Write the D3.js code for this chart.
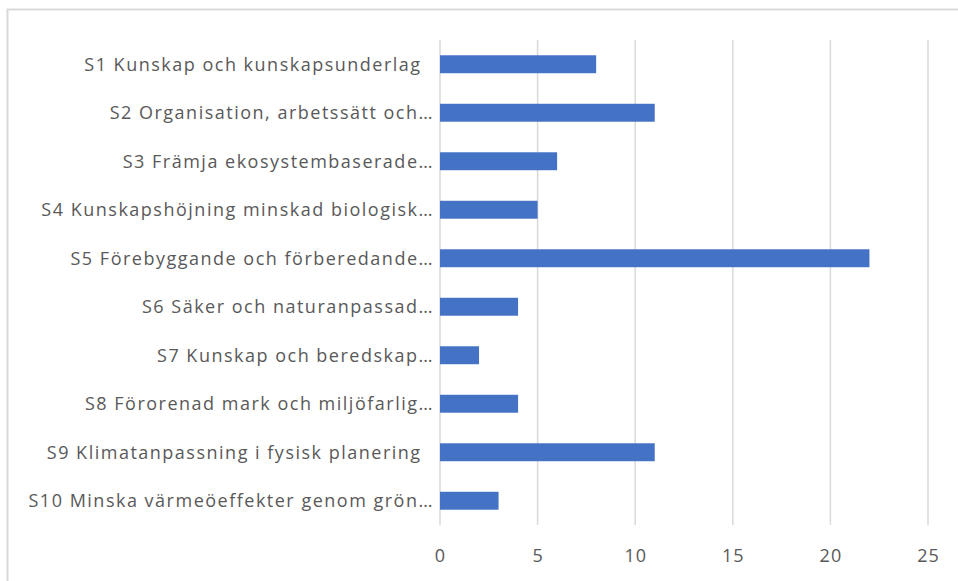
<!DOCTYPE html>
<html>
<head>
<meta charset="utf-8">
<script src="https://cdn.jsdelivr.net/npm/d3@7"></script>
<style>
  body { margin: 0; background: #fff; }
  text { font-family: "Open Sans", Lato, sans-serif; fill: #595959; }
</style>
</head>
<body>
<div id="viz"></div>
<script>
// categories (Excel truncates the long ones)
const categories = [
    "S1 Kunskap och kunskapsunderlag  ",
    "S2 Organisation, arbetssätt och…",
    "S3 Främja ekosystembaserade…",
    "S4 Kunskapshöjning minskad biologisk…",
    "S5 Förebyggande och förberedande…",
    "S6 Säker och naturanpassad…",
    "S7 Kunskap och beredskap…",
    "S8 Förorenad mark och miljöfarlig…",
    "S9 Klimatanpassning i fysisk planering  ",
    "S10 Minska värmeöeffekter genom grön…"
];
const values = [8, 11, 6, 5, 22, 4, 2, 4, 11, 3];
const xTicks = [0, 5, 10, 15, 20, 25];

const width = 958, height = 581;
const margin = { top: 40, right: 30, bottom: 56, left: 440 };

const svg = d3.select("#viz")
    .append("svg")
    .attr("width", width)
    .attr("height", height);

// chart border
svg.append("rect")
    .attr("x", 7.5)
    .attr("y", 9.5)
    .attr("width", 960)
    .attr("height", 600)
    .attr("fill", "none")
    .attr("stroke", "#d9d9d9")
    .attr("stroke-width", 2);

const xScale = d3.scaleLinear()
    .domain([0, 25])
    .range([margin.left, 928]);

const yScale = d3.scaleBand()
    .domain(categories)
    .range([margin.top, height - margin.bottom])
    .paddingInner(0.63)
    .paddingOuter(0.315);

// gridlines
svg.append("g")
    .selectAll("line")
    .data(xTicks)
    .enter()
    .append("line")
    .attr("x1", (d) => xScale(d))
    .attr("x2", (d) => xScale(d))
    .attr("y1", margin.top)
    .attr("y2", height - margin.bottom)
    .attr("stroke", "#d9d9d9")
    .attr("stroke-width", 1.5);

// bars
svg.selectAll(".bar")
    .data(values)
    .enter()
    .append("rect")
    .attr("class", "bar")
    .attr("x", xScale(0))
    .attr("y", (d, i) => yScale(categories[i]))
    .attr("width", (d) => xScale(d) - xScale(0))
    .attr("height", yScale.bandwidth())
    .attr("fill", "#4472c4");

// category labels
svg.append("g")
    .selectAll("text")
    .data(categories)
    .enter()
    .append("text")
    .attr("x", margin.left - 6)
    .attr("y", (d) => yScale(d) + yScale.bandwidth() / 2)
    .attr("dy", "0.36em")
    .attr("text-anchor", "end")
    .style("white-space", "pre")
    .style("font-size", "18px")
    .style("letter-spacing", "1.5px")
    .text((d) => d);

// x tick labels
const xAxis = svg.append("g")
    .attr("transform", `translate(0,${height - margin.bottom})`)
    .call(d3.axisBottom(xScale).tickValues(xTicks).tickSize(0).tickPadding(24));
xAxis.select(".domain").remove();
xAxis.selectAll("text")
    .style("font-size", "18px")
    .style("letter-spacing", "1px")
    .attr("fill", "#595959");
</script>
</body>
</html>
